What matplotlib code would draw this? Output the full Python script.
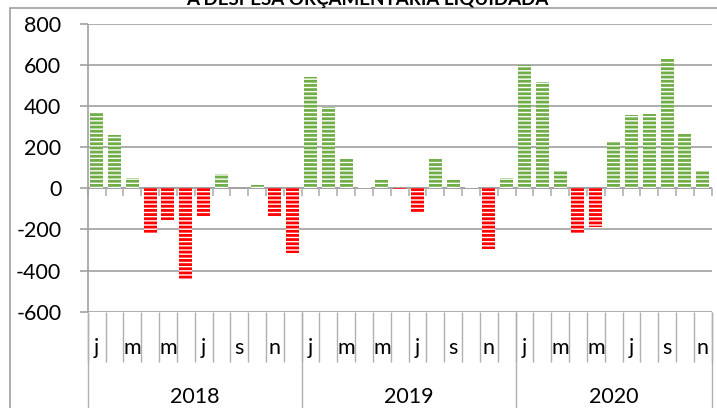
import matplotlib.pyplot as plt
from matplotlib.patches import Rectangle
import numpy as np

# resultado mensal (jan/2018 - nov/2020)
years = ['2018', '2019', '2020']
month_letters = ['j', 'f', 'm', 'a', 'm', 'j', 'j', 'a', 's', 'o', 'n', 'd']
values_2018 = [365, 260, 52, -216, -154, -441, -140, 71, 0, 18, -140, -312]
values_2019 = [544, 398, 143, 5, 41, -5, -114, 149, 41, 5, -295, 52]
values_2020 = [600, 519, 84, -216, -187, 227, 357, 364, 630, 265, 84]
yticks = [-600, -400, -200, 0, 200, 400, 600, 800]

values = values_2018 + values_2019 + values_2020
year_counts = [len(values_2018), len(values_2019), len(values_2020)]
n = len(values)
x = np.arange(n)

plt.rcParams['font.family'] = ['Lato', 'DejaVu Sans']
plt.rcParams['hatch.linewidth'] = 2.0

green = '#70AD47'
red = '#FF0000'
grid_c = '#A0A0A0'

fig = plt.figure(figsize=(7.17, 4.08), dpi=100)
ax = fig.add_axes([87.7 / 717, 1 - 311.7 / 408, (711.7 - 87.7) / 717, (311.7 - 24) / 408])

cols = [green if v >= 0 else red for v in values]
ax.bar(x, values, width=0.73, color='white', edgecolor=cols, linewidth=0, hatch='----', zorder=3)

ax.set_xlim(-0.5, n - 0.5)
ax.set_ylim(-600, 800)
ax.set_yticks(yticks)
ax.set_yticklabels([str(t) for t in yticks], fontsize=15.5)
ax.tick_params(axis='y', length=6, width=1.2, color=grid_c, pad=13)
ax.set_xticks([])
for s in ax.spines.values():
    s.set_visible(False)
ax.grid(axis='y', color=grid_c, linewidth=1.2, zorder=0)

# eixo horizontal no zero com marcas
ax.axhline(0, color=grid_c, linewidth=1.2, zorder=2)
bounds = np.arange(n + 1) - 0.5
ax.plot(bounds, np.zeros(len(bounds)), linestyle='none', marker=3, markersize=6,
        markeredgecolor='#B0B0B0', markeredgewidth=1.2, zorder=2, clip_on=False)

# eixo de categorias em dois niveis
xt = ax.get_xaxis_transform()
month_depth = -(362 - 311.7) / 287.7
year_depth = -(408 - 311.7) / 287.7
ax.vlines(bounds, month_depth, 0, transform=xt, color='#B0B0B0', linewidth=1, clip_on=False)
edges = np.concatenate([[0], np.cumsum(year_counts)]) - 0.5
ax.vlines(edges, year_depth, 0, transform=xt, color='#B0B0B0', linewidth=1, clip_on=False)
ax.vlines([-0.5], 0, 1, transform=xt, color=grid_c, linewidth=1.2, clip_on=False)

i = 0
for yr, cnt in zip(years, year_counts):
    for k in range(cnt):
        if k % 2 == 0:
            ax.text(i + k, -0.126, month_letters[k], transform=xt, ha='center', va='center', fontsize=15.5)
    ax.text(i + (cnt - 1) / 2, -0.297, yr, transform=xt, ha='center', va='center', fontsize=15.5)
    i += cnt

# borda da area do grafico e titulo cortado
fig.patches.append(Rectangle((10 / 717, -0.1), 1.2, 1 - 8 / 408 + 0.1, transform=fig.transFigure,
                             fill=False, edgecolor=grid_c, linewidth=1.2))
fig.text(0.512, 1 - 5 / 408, 'A DESPESA ORÇAMENTÁRIA LIQUIDADA', ha='center', va='baseline',
         fontsize=13.5, fontweight='bold')

fig.savefig('out.png', dpi=100)
